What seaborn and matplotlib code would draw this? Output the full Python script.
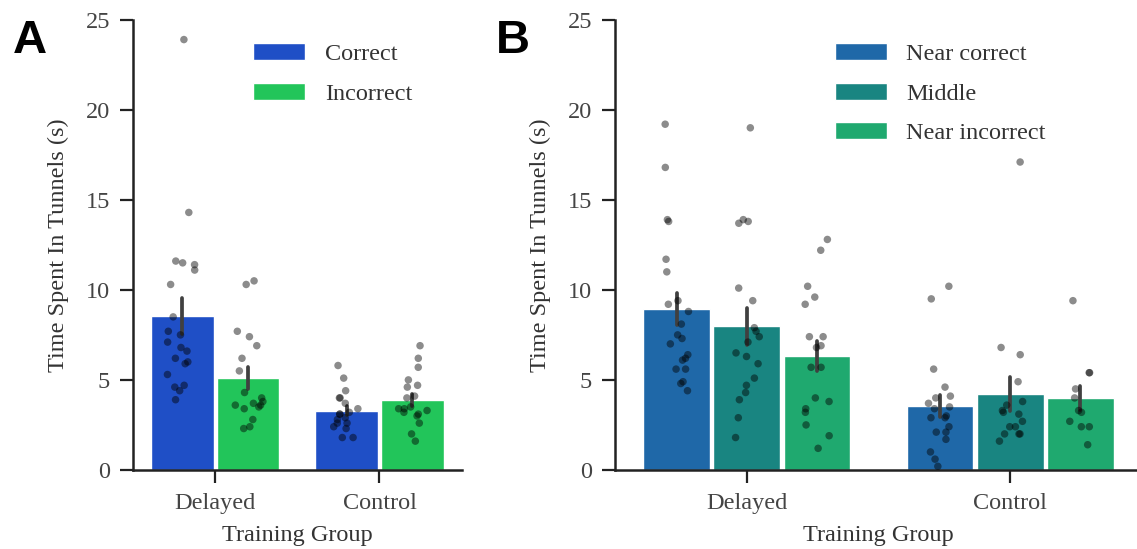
import numpy as np
import pandas as pd
import matplotlib
matplotlib.use("Agg")
import matplotlib.pyplot as plt
import seaborn as sns


# panel A: time in tunnels, correct vs incorrect side
groups = ["Delayed", "Control"]
sides_a = ["Correct", "Incorrect"]

delayed_correct = [23.9, 14.3, 11.6, 11.5, 11.4, 11.1, 10.3, 8.5, 7.7, 7.5, 7.1,
                   6.8, 6.6, 6.2, 6.0, 5.9, 5.3, 4.7, 4.6, 4.4, 3.9]
delayed_incorrect = [10.5, 10.3, 7.7, 7.4, 6.9, 6.2, 5.5, 4.3, 4.0, 3.8, 3.7,
                     3.6, 3.5, 3.4, 3.6, 2.8, 2.4, 2.3]
control_correct = [5.8, 5.1, 4.4, 4.0, 4.0, 3.7, 3.4, 3.2, 3.1, 3.1, 2.9, 2.8,
                   2.6, 2.6, 2.4, 2.3, 1.8, 1.8]
control_incorrect = [6.9, 6.2, 5.7, 5.0, 4.7, 4.6, 4.1, 4.0, 3.5, 3.4, 3.4, 3.3,
                     3.2, 3.1, 3.0, 2.6, 2.0, 1.6]

# panel B: three tunnel positions
sides_b = ["Near correct", "Middle", "Near incorrect"]

delayed_near_correct = [19.2, 16.8, 13.8, 13.9, 11.7, 11.0, 9.4, 9.2, 8.8, 8.1,
                        7.5, 7.3, 7.0, 6.4, 6.2, 6.1, 5.6, 5.6, 4.9, 4.8, 4.4]
delayed_middle = [19.0, 13.9, 13.8, 13.7, 10.1, 9.4, 7.9, 7.4, 7.7, 7.1, 6.5,
                  6.3, 5.9, 5.1, 4.7, 4.3, 3.9, 2.9, 1.8]
delayed_near_incorrect = [12.8, 12.2, 10.2, 9.6, 9.2, 7.4, 7.4, 6.9, 6.8, 5.7,
                          5.7, 3.8, 4.0, 3.4, 3.2, 2.5, 1.9, 1.2]
control_near_correct = [10.2, 9.5, 5.6, 4.6, 4.1, 4.0, 3.7, 3.5, 3.4, 3.0, 2.9,
                        2.9, 2.4, 2.1, 2.1, 1.7, 1.0, 0.6, 0.2]
control_middle = [17.1, 6.8, 6.4, 4.9, 3.8, 3.6, 3.3, 3.2, 3.1, 2.7, 2.4, 2.4,
                  2.0, 2.0, 2.0, 1.6]
control_near_incorrect = [9.4, 5.4, 5.4, 4.5, 4.0, 3.3, 3.2, 2.7, 2.4, 2.4, 1.4]

colors_a = ["#1f4fc6", "#22c55a"]
colors_b = ["#1f68a8", "#198581", "#1fa96f"]


def long_table(blocks):
    rows = []
    for group, side, values in blocks:
        for v in values:
            rows.append({"group": group, "side": side, "time": v})
    return pd.DataFrame(rows)


df_a = long_table([
    ("Delayed", "Correct", delayed_correct),
    ("Delayed", "Incorrect", delayed_incorrect),
    ("Control", "Correct", control_correct),
    ("Control", "Incorrect", control_incorrect),
])

df_b = long_table([
    ("Delayed", "Near correct", delayed_near_correct),
    ("Delayed", "Middle", delayed_middle),
    ("Delayed", "Near incorrect", delayed_near_incorrect),
    ("Control", "Near correct", control_near_correct),
    ("Control", "Middle", control_middle),
    ("Control", "Near incorrect", control_near_incorrect),
])


sns.set_theme(style="ticks")
plt.rcParams["font.family"] = ["Liberation Serif", "DejaVu Serif"]
plt.rcParams["text.color"] = "#333333"
plt.rcParams["axes.labelcolor"] = "#333333"
plt.rcParams["xtick.color"] = "#222222"
plt.rcParams["ytick.color"] = "#222222"
plt.rcParams["xtick.labelcolor"] = "#444444"
plt.rcParams["ytick.labelcolor"] = "#444444"

np.random.seed(3)

FS = 17.5

fig = plt.figure(figsize=(11.37, 5.49), dpi=100)
ax_a = fig.add_axes([0.117, 0.144, 0.289, 0.82])
ax_b = fig.add_axes([0.541, 0.144, 0.4633, 0.82])


def draw_panel(ax, df, order_hue, colors, jitter, legend_x):
    sns.barplot(
        data=df, x="group", y="time", hue="side",
        order=groups, hue_order=order_hue, palette=colors,
        errorbar="se", err_kws={"color": "#404040", "linewidth": 2.7},
        width=0.8, gap=0.05, saturation=1, ax=ax,
    )
    leg = ax.get_legend()
    handles = leg.legend_handles
    labels = [t.get_text() for t in leg.get_texts()]

    sns.stripplot(
        data=df, x="group", y="time", hue="side",
        order=groups, hue_order=order_hue, palette=["black"] * len(order_hue),
        dodge=True, jitter=jitter, size=5.4, alpha=0.45, linewidth=0,
        legend=False, ax=ax,
    )

    ax.legend(
        handles, labels, frameon=False, loc="upper left",
        bbox_to_anchor=(legend_x, 0.948), borderaxespad=0, borderpad=0,
        fontsize=FS, handlelength=2.15, handletextpad=0.8, labelspacing=0.72,
    )

    ax.set_ylim(0, 25)
    ax.set_yticks([0, 5, 10, 15, 20, 25])
    ax.set_xlim(-0.5, 1.5)
    ax.set_xlabel("Training Group", fontsize=FS, labelpad=8)
    ax.set_ylabel("Time Spent In Tunnels (s)", fontsize=FS, labelpad=12)
    ax.tick_params(axis="both", labelsize=FS, length=9.5, width=1.6, pad=7)
    for side in ["left", "bottom"]:
        ax.spines[side].set_linewidth(1.8)
        ax.spines[side].set_color("#222222")
    sns.despine(ax=ax)


draw_panel(ax_a, df_a, sides_a, colors_a, 0.19, 0.365)
draw_panel(ax_b, df_b, sides_b, colors_b, 0.15, 0.417)

fig.text(0.011, 0.925, "A", fontsize=34, fontweight="bold",
         family=["Liberation Sans", "DejaVu Sans"], color="black", va="center")
fig.text(0.436, 0.925, "B", fontsize=34, fontweight="bold",
         family=["Liberation Sans", "DejaVu Sans"], color="black", va="center")

fig.savefig("out.png", dpi=100)
